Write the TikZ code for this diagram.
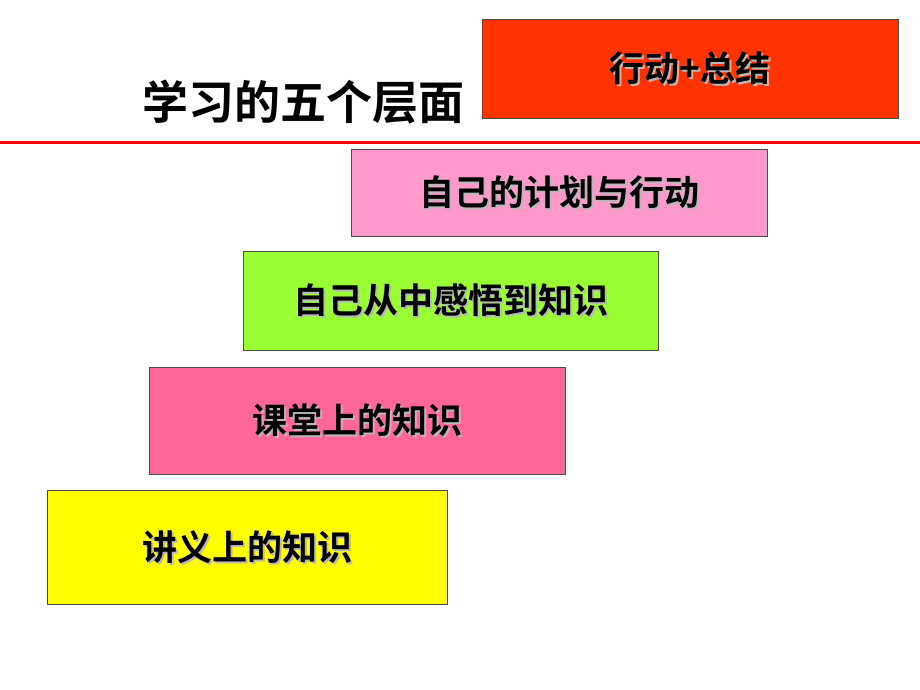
\documentclass[tikz,border=0pt]{standalone}
\usepackage{fontspec}
\newfontfamily\cjk{Noto Sans CJK SC}[BoldFont={Noto Sans CJK SC Bold}]
\begin{document}
\begin{tikzpicture}[x=1pt,y=-1pt,
 txt/.style={font=\cjk\bfseries\fontsize{35}{40}\selectfont}]
\useasboundingbox (0,0) rectangle (920,690);
\fill[white] (0,0) rectangle (920,690);
\definecolor{c1}{HTML}{FF3300}\definecolor{c2}{HTML}{FF99CC}
\definecolor{c3}{HTML}{99FF33}\definecolor{c4}{HTML}{FF6699}
\definecolor{c5}{HTML}{FFFF00}
\draw[red,line width=3pt] (0,142) -- (920,142);
\newcommand\lv[7]{%
 \filldraw[fill=#5,draw=black!70,line width=0.8pt] (#1,#2) rectangle (#3,#4);
 \node[txt,text=gray!55] at ({(#1+#3)/2+2},{(#2+#4)/2+2}) {#6};
 \node[txt] (#7) at ({(#1+#3)/2},{(#2+#4)/2}) {#6};}
\lv{482}{19}{898}{118}{c1}{行动+总结}{b1}
\lv{351}{149}{767}{236}{c2}{自己的计划与行动}{b2}
\lv{243}{251}{658}{350}{c3}{自己从中感悟到知识}{b3}
\lv{149}{367}{565}{474}{c4}{课堂上的知识}{b4}
\lv{47}{490}{447}{604}{c5}{讲义上的知识}{b5}
\node[font=\cjk\bfseries\fontsize{46}{50}\selectfont] (title) at (303,102) {学习的五个层面};
\end{tikzpicture}
\end{document}
